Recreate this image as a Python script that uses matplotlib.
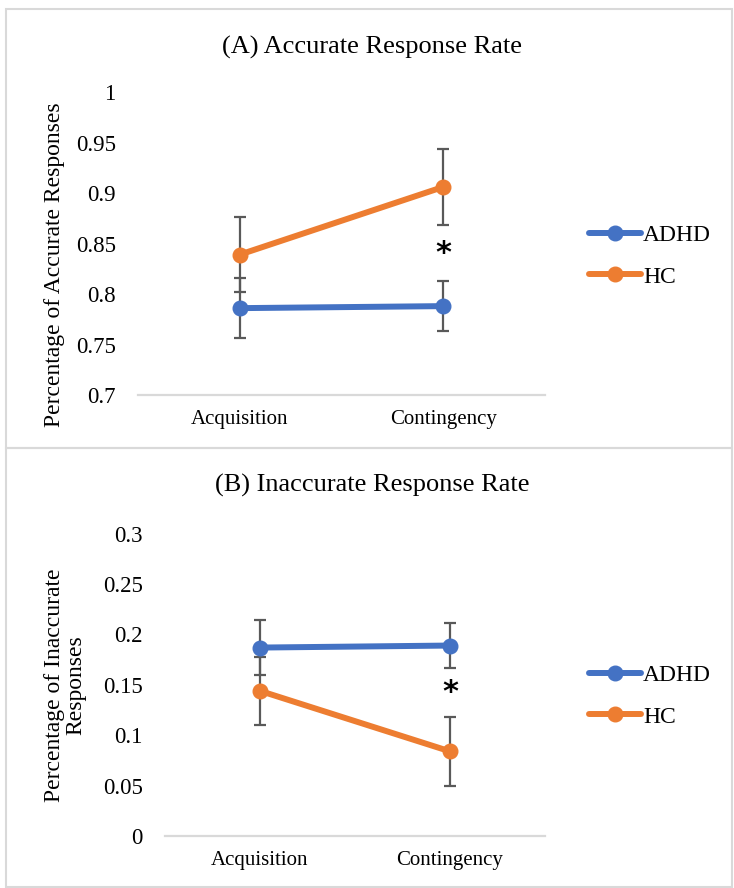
import matplotlib
matplotlib.use("Agg")
import matplotlib.pyplot as plt

plt.rcParams['font.family'] = ['Liberation Serif', 'DejaVu Serif']

phases = ["Acquisition", "Contingency"]
groups = ["ADHD", "HC"]

acc_adhd = [0.786, 0.788]
acc_adhd_err = [0.030, 0.025]
acc_hc = [0.839, 0.906]
acc_hc_err = [0.037, 0.038]
acc_ticks = [0.7, 0.75, 0.8, 0.85, 0.9, 0.95, 1]
acc_ticklabels = ["0.7", "0.75", "0.8", "0.85", "0.9", "0.95", "1"]

inacc_adhd = [0.187, 0.189]
inacc_adhd_err = [0.027, 0.022]
inacc_hc = [0.144, 0.084]
inacc_hc_err = [0.034, 0.034]
inacc_ticks = [0, 0.05, 0.1, 0.15, 0.2, 0.25, 0.3]
inacc_ticklabels = ["0", "0.05", "0.1", "0.15", "0.2", "0.25", "0.3"]

BLUE = "#4472C4"
ORANGE = "#ED7D31"
ERR = "#595959"
AXC = "#D9D9D9"

W, H = 734, 888
fig = plt.figure(figsize=(W / 100, H / 100), dpi=100)

def fx(px):
    return px / W

def fy(py):
    return 1 - py / H

# panel borders
for (x0, y0, x1, y1) in [(6, 9, 732, 448), (6, 448, 732, 887)]:
    fig.add_artist(plt.Rectangle((fx(x0), fy(y1)), fx(x1) - fx(x0), fy(y0) - fy(y1),
                                 transform=fig.transFigure, fill=False,
                                 edgecolor="#D9D9D9", lw=1.5))

def panel(rect, adhd, adhd_err, hc, hc_err, ticks, ticklabels, ylim, title, title_y,
          ylabel, ylabel_coords, legend_y):
    ax = fig.add_axes(rect)
    x = list(range(len(phases)))
    for vals, errs in [(adhd, adhd_err), (hc, hc_err)]:
        ax.errorbar(x, vals, yerr=errs, fmt="none", ecolor=ERR, elinewidth=1.6,
                    capsize=4.5, capthick=1.6, zorder=2)
    la, = ax.plot(x, adhd, color=BLUE, lw=4.3, marker="o", ms=10.5, zorder=3,
                  solid_capstyle="round", label=groups[0])
    lh, = ax.plot(x, hc, color=ORANGE, lw=4.3, marker="o", ms=10.5, zorder=3,
                  solid_capstyle="round", label=groups[1])
    # significance marker between the two groups at Contingency
    if hc[1] > adhd[1]:
        ymid = ((hc[1] - hc_err[1]) + (adhd[1] + adhd_err[1])) / 2
    else:
        ymid = ((adhd[1] - adhd_err[1]) + (hc[1] + hc_err[1])) / 2
    ax.text(1, ymid, "*", ha="center", va="center", fontsize=22, fontweight="bold",
            family="DejaVu Sans", color="black")
    ax.set_xlim(-0.5, 1.5)
    ax.set_ylim(*ylim)
    ax.set_yticks(ticks)
    ax.set_yticklabels(ticklabels)
    ax.set_xticks(x)
    ax.set_xticklabels(phases)
    ax.tick_params(axis="y", length=0, pad=16, labelsize=16.5)
    ax.tick_params(axis="x", length=0, pad=11, labelsize=15)
    for s in ["top", "right", "left"]:
        ax.spines[s].set_visible(False)
    ax.spines["bottom"].set_color(AXC)
    ax.spines["bottom"].set_linewidth(1.6)
    ax.set_ylabel(ylabel, fontsize=17, linespacing=1.05, ha="center", va="center")
    ax.yaxis.set_label_coords(*ylabel_coords)
    fig.text(fx(372), fy(title_y), title, ha="center", va="center", fontsize=19)
    fig.legend(handles=[la, lh], loc="center left",
               bbox_to_anchor=(fx(577), fy(legend_y)), frameon=False, fontsize=17,
               handlelength=2.2, handletextpad=0.1, labelspacing=0.85, borderpad=0)
    return ax

panel([fx(138), fy(395), fx(545) - fx(138), fy(92) - fy(395)],
      acc_adhd, acc_adhd_err, acc_hc, acc_hc_err, acc_ticks, acc_ticklabels,
      (0.7, 1.0), "(A) Accurate Response Rate", 47,
      "Percentage of Accurate Responses", (-0.206, 0.43), 256)

panel([fx(165), fy(836), fx(545) - fx(165), fy(533.7) - fy(836)],
      inacc_adhd, inacc_adhd_err, inacc_hc, inacc_hc_err, inacc_ticks, inacc_ticklabels,
      (0.0, 0.3), "(B) Inaccurate Response Rate", 485,
      "Percentage of Inaccurate\nResponses", (-0.262, 0.5), 696)

fig.savefig("out.png", dpi=100)
